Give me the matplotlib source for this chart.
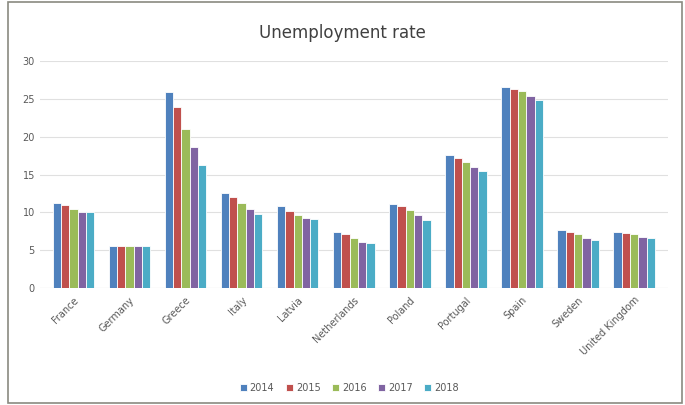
import numpy as np
import matplotlib.pyplot as plt
from matplotlib.patches import Rectangle

countries = ['France', 'Germany', 'Greece', 'Italy', 'Latvia', 'Netherlands',
             'Poland', 'Portugal', 'Spain', 'Sweden', 'United Kingdom']
years = ['2014', '2015', '2016', '2017', '2018']

rate_2014 = [11.2, 5.5, 25.9, 12.5, 10.8, 7.4, 11.1, 17.6, 26.6, 7.7, 7.4]
rate_2015 = [11.0, 5.5, 24.0, 12.0, 10.2, 7.1, 10.8, 17.2, 26.3, 7.4, 7.3]
rate_2016 = [10.4, 5.5, 21.0, 11.3, 9.6, 6.6, 10.3, 16.6, 26.1, 7.1, 7.1]
rate_2017 = [10.1, 5.5, 18.6, 10.4, 9.3, 6.1, 9.7, 16.0, 25.4, 6.6, 6.7]
rate_2018 = [10.0, 5.5, 16.2, 9.8, 9.1, 5.9, 9.0, 15.5, 24.9, 6.4, 6.6]

series = [rate_2014, rate_2015, rate_2016, rate_2017, rate_2018]
colors = ['#4F81BD', '#C0504D', '#9BBB59', '#8064A2', '#4BACC6']

fig = plt.figure(figsize=(6.85, 4.05), dpi=100)
ax = fig.add_axes([0.058, 0.289, 0.917, 0.56])

x = np.arange(len(countries))
w = 0.148
for i, (vals, c) in enumerate(zip(series, colors)):
    ax.bar(x + (i - 2) * w, vals, width=w, color=c, edgecolor='white',
           linewidth=0.6, label=years[i], zorder=3)

ax.set_xlim(-0.6, len(countries) - 0.4)
ax.set_ylim(0, 30)
ax.set_yticks(range(0, 31, 5))
ax.grid(axis='y', color='#e0e0e0', linewidth=0.8, zorder=0)
for s in ax.spines.values():
    s.set_visible(False)
ax.axhline(0, color='#d9d9d9', linewidth=0.8, zorder=2)
ax.tick_params(length=0, labelsize=7, colors='#595959')
ax.tick_params(axis='x', pad=5)
ax.set_xticks(x)
ax.set_xticklabels(countries, rotation=45, ha='right', rotation_mode='anchor')

fig.text(0.5, 0.918, 'Unemployment rate', ha='center', va='center',
         fontsize=12, color='#404040')

fig.legend(loc='center', bbox_to_anchor=(0.51, 0.043), ncol=5, frameon=False,
           fontsize=7, handlelength=0.7, handleheight=0.7, handletextpad=0.3,
           columnspacing=1.2, labelcolor='#595959')

fig.patches.append(Rectangle((0.012, 0.004), 0.984, 0.99, transform=fig.transFigure,
                             fill=False, edgecolor='#8a8a80', linewidth=1.2))

plt.savefig('out.png', dpi=100)
